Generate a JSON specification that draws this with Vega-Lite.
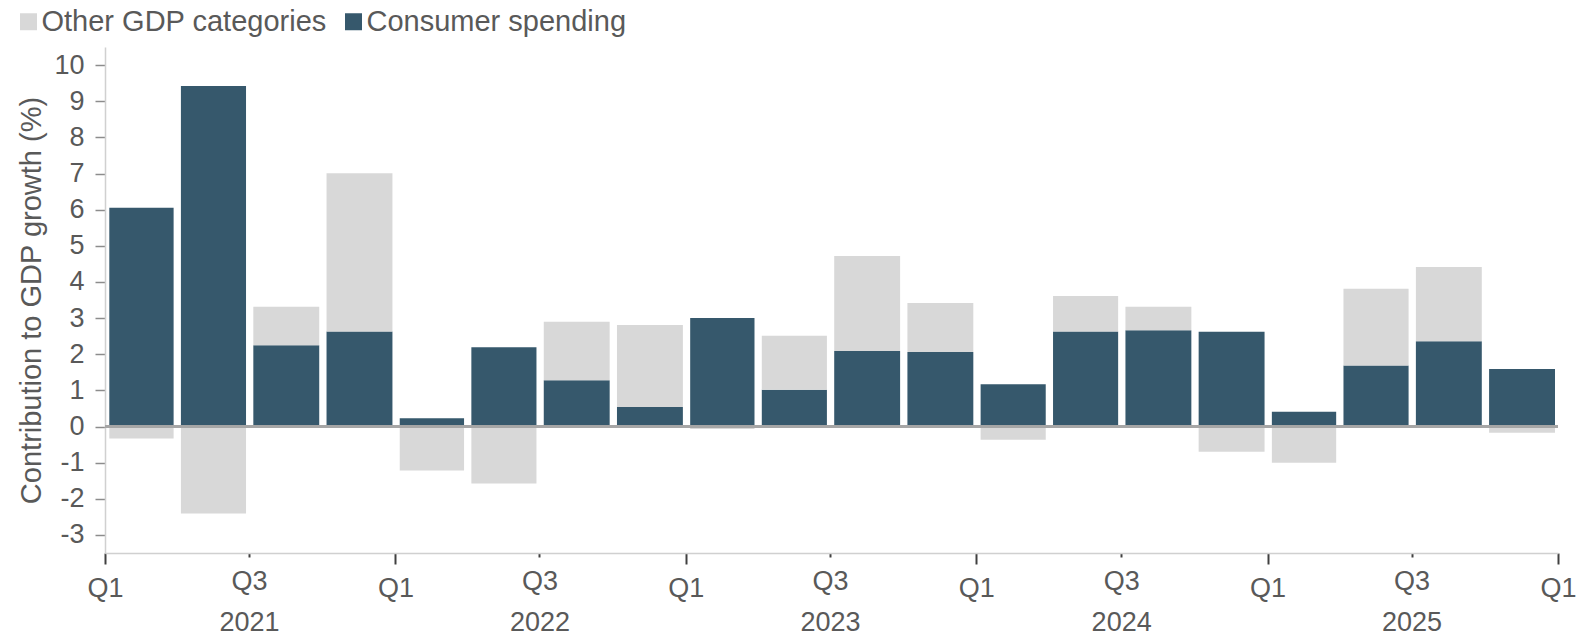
{
  "$schema": "https://vega.github.io/schema/vega-lite/v6.json",
  "width": 1453,
  "height": 506,
  "autosize": {"type": "none"},
  "padding": {"left": 105, "top": 47, "right": 29, "bottom": 89},
  "background": "white",
  "config": {
    "view": {"stroke": null},
    "font": "Liberation Sans",
    "axis": {"labelFont": "Liberation Sans", "titleFont": "Liberation Sans", "labelColor": "#595959", "titleColor": "#595959", "grid": false},
    "legend": {"labelFont": "Liberation Sans"}
  },
  "data": {
    "values": [
      {"date": "2021-01-01", "series": "Consumer spending", "value": 6.05},
      {"date": "2021-01-01", "series": "Other GDP categories", "value": -0.33},
      {"date": "2021-04-01", "series": "Consumer spending", "value": 9.42},
      {"date": "2021-04-01", "series": "Other GDP categories", "value": -2.41},
      {"date": "2021-07-01", "series": "Consumer spending", "value": 2.25},
      {"date": "2021-07-01", "series": "Other GDP categories", "value": 1.06},
      {"date": "2021-10-01", "series": "Consumer spending", "value": 2.63},
      {"date": "2021-10-01", "series": "Other GDP categories", "value": 4.38},
      {"date": "2022-01-01", "series": "Consumer spending", "value": 0.23},
      {"date": "2022-01-01", "series": "Other GDP categories", "value": -1.22},
      {"date": "2022-04-01", "series": "Consumer spending", "value": 2.19},
      {"date": "2022-04-01", "series": "Other GDP categories", "value": -1.58},
      {"date": "2022-07-01", "series": "Consumer spending", "value": 1.28},
      {"date": "2022-07-01", "series": "Other GDP categories", "value": 1.62},
      {"date": "2022-10-01", "series": "Consumer spending", "value": 0.54},
      {"date": "2022-10-01", "series": "Other GDP categories", "value": 2.27},
      {"date": "2023-01-01", "series": "Consumer spending", "value": 3.0},
      {"date": "2023-01-01", "series": "Other GDP categories", "value": -0.07},
      {"date": "2023-04-01", "series": "Consumer spending", "value": 1.02},
      {"date": "2023-04-01", "series": "Other GDP categories", "value": 1.49},
      {"date": "2023-07-01", "series": "Consumer spending", "value": 2.09},
      {"date": "2023-07-01", "series": "Other GDP categories", "value": 2.63},
      {"date": "2023-10-01", "series": "Consumer spending", "value": 2.06},
      {"date": "2023-10-01", "series": "Other GDP categories", "value": 1.36},
      {"date": "2024-01-01", "series": "Consumer spending", "value": 1.17},
      {"date": "2024-01-01", "series": "Other GDP categories", "value": -0.37},
      {"date": "2024-04-01", "series": "Consumer spending", "value": 2.63},
      {"date": "2024-04-01", "series": "Other GDP categories", "value": 0.98},
      {"date": "2024-07-01", "series": "Consumer spending", "value": 2.66},
      {"date": "2024-07-01", "series": "Other GDP categories", "value": 0.65},
      {"date": "2024-10-01", "series": "Consumer spending", "value": 2.62},
      {"date": "2024-10-01", "series": "Other GDP categories", "value": -0.7},
      {"date": "2025-01-01", "series": "Consumer spending", "value": 0.41},
      {"date": "2025-01-01", "series": "Other GDP categories", "value": -1.0},
      {"date": "2025-04-01", "series": "Consumer spending", "value": 1.69},
      {"date": "2025-04-01", "series": "Other GDP categories", "value": 2.12},
      {"date": "2025-07-01", "series": "Consumer spending", "value": 2.36},
      {"date": "2025-07-01", "series": "Other GDP categories", "value": 2.05},
      {"date": "2025-10-01", "series": "Consumer spending", "value": 1.59},
      {"date": "2025-10-01", "series": "Other GDP categories", "value": -0.17}
    ]
  },
  "layer": [
    {
      "mark": {"type": "bar", "xOffset": -3, "x2Offset": 3.3},
      "encoding": {
        "x": {
          "field": "date",
          "type": "temporal",
          "timeUnit": "utcyearquarter",
          "scale": {"type": "utc", "domain": [{"year": 2021, "month": 1, "date": 1, "utc": true}, {"year": 2026, "month": 1, "date": 1, "utc": true}]},
          "axis": {
            "title": null,
            "values": [
              {"year": 2021, "month": 1, "date": 1, "utc": true},
              {"year": 2021, "month": 7, "date": 1, "utc": true},
              {"year": 2022, "month": 1, "date": 1, "utc": true},
              {"year": 2022, "month": 7, "date": 1, "utc": true},
              {"year": 2023, "month": 1, "date": 1, "utc": true},
              {"year": 2023, "month": 7, "date": 1, "utc": true},
              {"year": 2024, "month": 1, "date": 1, "utc": true},
              {"year": 2024, "month": 7, "date": 1, "utc": true},
              {"year": 2025, "month": 1, "date": 1, "utc": true},
              {"year": 2025, "month": 7, "date": 1, "utc": true},
              {"year": 2026, "month": 1, "date": 1, "utc": true}
            ],
            "labelExpr": "utcmonth(datum.value) == 0 ? 'Q1' : ['Q3', '' + utcyear(datum.value)]",
            "labelFontSize": 27,
            "labelLineHeight": 41.5,
            "labelFlush": false,
            "labelOverlap": false,
            "labelBound": false,
            "labelPadding": 11,
            "tickSize": {"condition": {"test": "utcmonth(datum.value) == 0", "value": 11}, "value": 4},
            "tickColor": "#404040",
            "tickWidth": 2,
            "domainColor": "#d0d0d0",
            "domainWidth": 1.5
          }
        },
        "y": {
          "field": "value",
          "type": "quantitative",
          "stack": "zero",
          "scale": {"domain": [-3.5, 10.5], "nice": false, "zero": false},
          "axis": {
            "title": "Contribution to GDP growth (%)",
            "titleFontSize": 29,
            "titleFontWeight": "normal",
            "titlePadding": 7,
            "tickCount": 14,
            "tickMinStep": 1,
            "labelExpr": "'' + datum.value",
            "labelFontSize": 27,
            "labelPadding": 11,
            "labelFlush": false,
            "labelOverlap": false,
            "tickSize": 10,
            "tickColor": "#8c8c8c",
            "tickWidth": 1.5,
            "domainColor": "#d0d0d0",
            "domainWidth": 1.5
          }
        },
        "color": {
          "field": "series",
          "type": "nominal",
          "scale": {"domain": ["Other GDP categories", "Consumer spending"], "range": ["#D8D8D8", "#36586C"]},
          "legend": {
            "title": null,
            "orient": "none",
            "direction": "horizontal",
            "legendX": -91,
            "legendY": -40,
            "padding": 0,
            "symbolType": "square",
            "symbolSize": 289,
            "symbolStrokeWidth": 0,
            "labelFontSize": 29,
            "labelLimit": 500,
            "labelColor": "#595959",
            "labelOffset": -1.5,
            "columnPadding": 12
          }
        },
        "order": {"field": "series", "sort": "ascending"}
      }
    },
    {
      "mark": {"type": "rule", "color": "#a6a6a6", "strokeWidth": 2},
      "encoding": {"y": {"datum": 0}}
    }
  ]
}
